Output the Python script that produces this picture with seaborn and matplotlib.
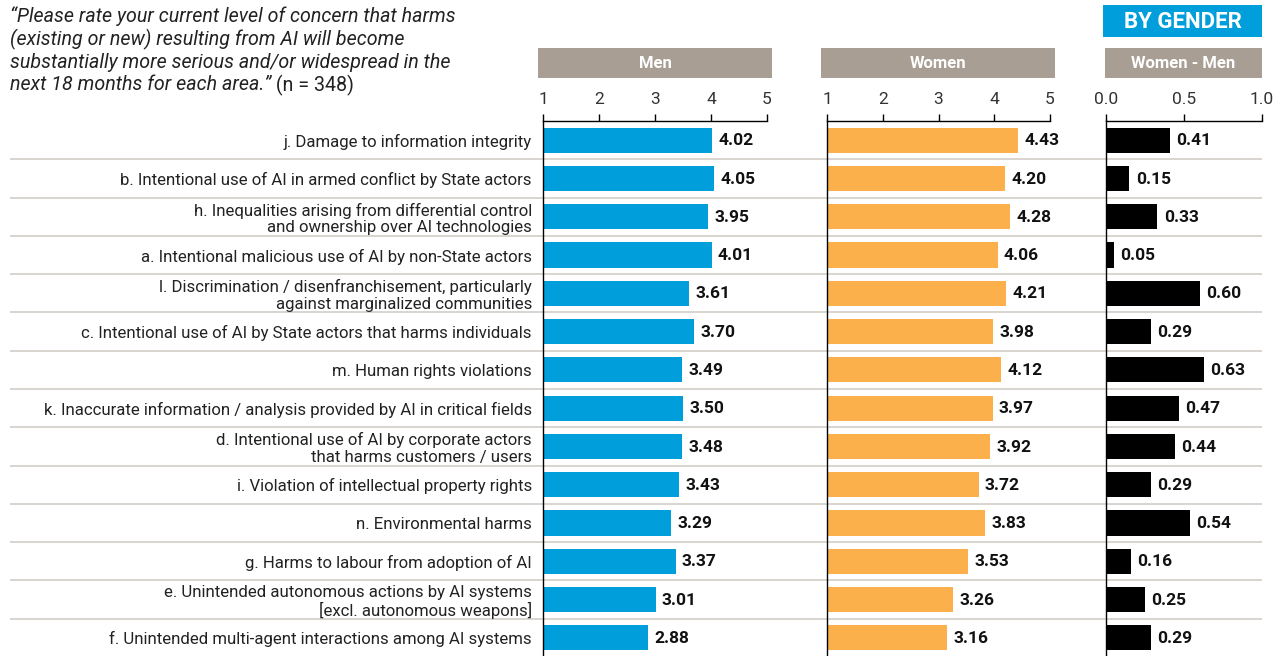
import matplotlib
matplotlib.use("Agg")
import matplotlib.pyplot as plt
import seaborn as sns
import pandas as pd
import numpy as np

categories = [
    "j. Damage to information integrity",
    "b. Intentional use of AI in armed conflict by State actors",
    "h. Inequalities arising from differential control\nand ownership over AI technologies",
    "a. Intentional malicious use of AI by non-State actors",
    "l. Discrimination / disenfranchisement, particularly\nagainst marginalized communities",
    "c. Intentional use of AI by State actors that harms individuals",
    "m. Human rights violations",
    "k. Inaccurate information / analysis provided by AI in critical fields",
    "d. Intentional use of AI by corporate actors\nthat harms customers / users",
    "i. Violation of intellectual property rights",
    "n. Environmental harms",
    "g. Harms to labour from adoption of AI",
    "e. Unintended autonomous actions by AI systems\n[excl. autonomous weapons]",
    "f. Unintended multi-agent interactions among AI systems",
]
men = [4.02, 4.05, 3.95, 4.01, 3.61, 3.70, 3.49, 3.50, 3.48, 3.43, 3.29, 3.37, 3.01, 2.88]
women = [4.43, 4.20, 4.28, 4.06, 4.21, 3.98, 4.12, 3.97, 3.92, 3.72, 3.83, 3.53, 3.26, 3.16]
diff = [0.41, 0.15, 0.33, 0.05, 0.60, 0.29, 0.63, 0.47, 0.44, 0.29, 0.54, 0.16, 0.25, 0.29]
panel_titles = ["Men", "Women", "Women - Men"]
scale_ticks = [1, 2, 3, 4, 5]
diff_ticks = [0.0, 0.5, 1.0]
diff_ticklabels = ["0.0", "0.5", "1.0"]

sns.set_theme(style="white")
plt.rcParams["font.family"] = ["Roboto", "DejaVu Sans"]

W, H = 1283, 656
fig = plt.figure(figsize=(W / 100, H / 100), dpi=100)
fig.patch.set_facecolor("white")

BLUE = "#009edb"
ORANGE = "#fbb04c"
BLACK = "#000000"
HEADER = "#a89e94"
SEP = "#d6d1cc"
TXT = "#222222"

def fx(px):
    return px / W

def fy_box(top, bottom):
    return (H - bottom) / H, (bottom - top) / H

ax_bottom, ax_h = fy_box(121, 657)

n = len(categories)

# background axes for row separators
bg = fig.add_axes([fx(10), ax_bottom, fx(1252), ax_h], zorder=0)
bg.set_ylim(n - 0.5, -0.5)
bg.set_xlim(0, 1)
bg.hlines(np.arange(n - 1) + 0.5, 0, 1, color=SEP, lw=1.3)
bg.axis("off")

df = pd.DataFrame({"cat": categories, "men": men, "women": women, "diff": diff})

panels = [
    ("men", BLUE, 543, 224, (1, 5), scale_ticks, [str(t) for t in scale_ticks], (538, 234)),
    ("women", ORANGE, 827, 223, (1, 5), scale_ticks, [str(t) for t in scale_ticks], (821, 234)),
    ("diff", BLACK, 1106, 156, (0, 1), diff_ticks, diff_ticklabels, (1105, 157)),
]

for i, (col, color, left, width, xlim, ticks, tlabels, (hl, hw)) in enumerate(panels):
    ax = fig.add_axes([fx(left), ax_bottom, fx(width), ax_h], zorder=2)
    ax.patch.set_alpha(0)
    sns.barplot(data=df, x=col, y="cat", order=categories, color=color,
                width=0.66, orient="h", ax=ax, saturation=1, linewidth=0)
    ax.set_xlim(*xlim)
    ax.set_ylim(n - 0.5, -0.5)
    ax.xaxis.tick_top()
    ax.set_xticks(ticks)
    ax.set_xticklabels(tlabels, fontsize=12.5, color="#333333")
    ax.tick_params(axis="x", direction="out", length=5, width=1, color="black", pad=5, top=True, bottom=False)
    ax.set_xlabel("")
    ax.set_ylabel("")
    for s in ["bottom", "right"]:
        ax.spines[s].set_visible(False)
    for s in ["top", "left"]:
        ax.spines[s].set_visible(True)
        ax.spines[s].set_color("black")
        ax.spines[s].set_linewidth(1)
    if i == 0:
        ax.set_yticks(range(n))
        ax.set_yticklabels(categories, fontsize=12.1, color=TXT)
        ax.tick_params(axis="y", length=0, pad=8, left=True)
        for lab in ax.get_yticklabels():
            lab.set_multialignment("right")
            lab.set_linespacing(1.12)
    else:
        ax.set_yticks([])
    fmt = "{:.2f}"
    for j, v in enumerate(df[col]):
        ax.annotate(fmt.format(v), xy=(v, j), xytext=(4.5, -0.5), textcoords="offset points",
                    va="center", ha="left", fontsize=12.5, fontweight="bold", color="#111111",
                    annotation_clip=False)
    # header box
    hb, hh = fy_box(48, 78)
    hax = fig.add_axes([fx(hl), hb, fx(hw), hh], zorder=2)
    hax.set_facecolor(HEADER)
    hax.set_xticks([]); hax.set_yticks([])
    for s in hax.spines.values():
        s.set_visible(False)
    hax.text(0.5, 0.5, panel_titles[i], ha="center", va="center", color="white",
             fontsize=12, fontweight="bold", transform=hax.transAxes)

# BY GENDER badge
bb, bh = fy_box(5, 37)
bax = fig.add_axes([fx(1103), bb, fx(159), bh], zorder=2)
bax.set_facecolor(BLUE)
bax.set_xticks([]); bax.set_yticks([])
for s in bax.spines.values():
    s.set_visible(False)
bax.text(0.5, 0.47, "BY GENDER", ha="center", va="center", color="white",
         fontsize=16, fontweight="bold", transform=bax.transAxes)

# Title (italic quote + normal n)
title_lines = [
    "\u201cPlease rate your current level of concern that harms",
    "(existing or new) resulting from AI will become",
    "substantially more serious and/or widespread in the",
]
ys = [16, 39, 62]
for line, y in zip(title_lines, ys):
    fig.text(fx(10), 1 - y / H, line, ha="left", va="center", fontsize=14.1,
             style="italic", color=TXT)
last = fig.text(fx(10), 1 - 85 / H, "next 18 months for each area.\u201d", ha="left",
                va="center", fontsize=14.1, style="italic", color=TXT)
fig.canvas.draw()
ann = plt.annotate(" (n = 348)", xy=(1, 0.5), xycoords=last, va="center", ha="left",
                   fontsize=14.1, color=TXT, annotation_clip=False)

fig.savefig("out.png", dpi=100, facecolor="white")
